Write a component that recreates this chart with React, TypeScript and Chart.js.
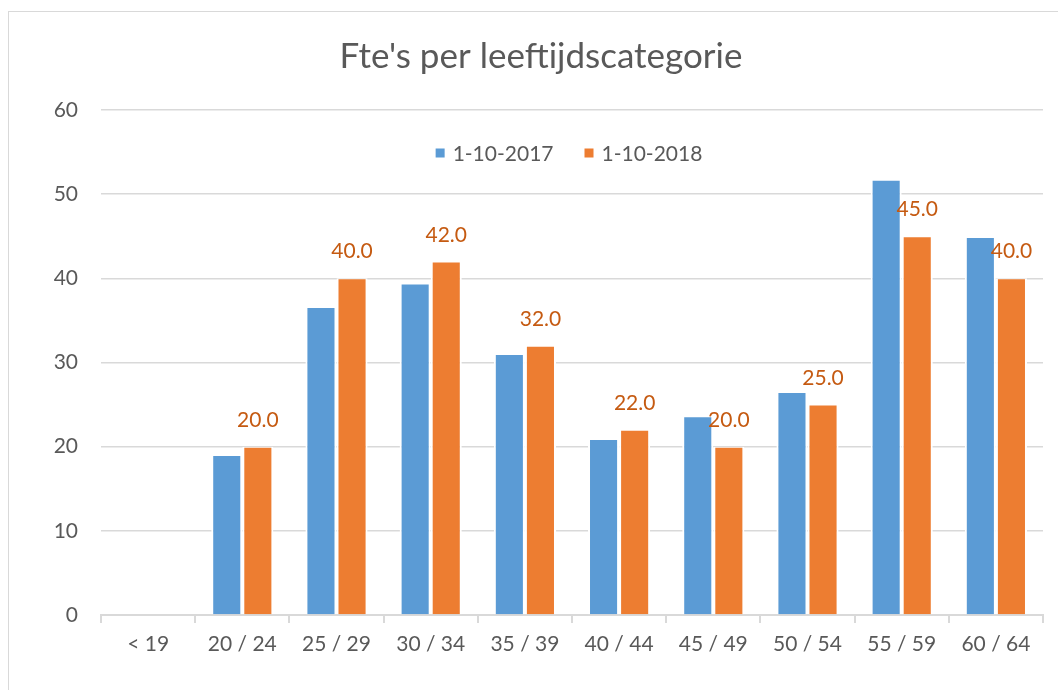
import React, { useEffect, useRef } from "react";
import { Chart, registerables } from "chart.js";

Chart.register(...registerables);

const categories = ["< 19", "20 / 24", "25 / 29", "30 / 34", "35 / 39", "40 / 44", "45 / 49", "50 / 54", "55 / 59", "60 / 64"];
const series2017 = [null, 19.0, 36.6, 39.4, 31.0, 20.9, 23.6, 26.5, 51.7, 44.9];
const series2018 = [null, 20.0, 40.0, 42.0, 32.0, 22.0, 20.0, 25.0, 45.0, 40.0];
const seriesLabels = ["1-10-2017", "1-10-2018"];
const yTicks = { min: 0, max: 60, step: 10 };
const titleText = "Fte's per leeftijdscategorie";

const BLUE = "#5b9bd5";
const ORANGE = "#ed7d31";
const TEXT = "#595959";
const GRID = "#d9d9d9";
const LABEL = "#c55a11";
const FONT = "Lato, 'Open Sans', sans-serif";

const legendPlugin = {
  id: "insideLegend",
  afterDraw(chart: any) {
    const ctx = chart.ctx;
    const area = chart.chartArea;
    ctx.save();
    ctx.font = `21px ${FONT}`;
    ctx.textBaseline = "middle";
    const box = 9;
    const gap = 8;
    const spacing = 31;
    const items = chart.data.datasets.map((d: any) => ({
      label: d.label,
      color: d.backgroundColor,
      w: ctx.measureText(d.label).width,
    }));
    let total = 0;
    items.forEach((it: any, i: number) => {
      total += box + gap + it.w + (i < items.length - 1 ? spacing : 0);
    });
    let x = (area.left + area.right) / 2 - total / 2 - 3;
    const y = area.top + 43;
    items.forEach((it: any) => {
      ctx.fillStyle = it.color;
      ctx.fillRect(x, y - box / 2, box, box);
      x += box + gap;
      ctx.fillStyle = TEXT;
      ctx.textAlign = "left";
      ctx.fillText(it.label, x, y + 1);
      x += it.w + spacing;
    });
    ctx.restore();
  },
};

const dataLabelPlugin = {
  id: "orangeLabels",
  afterDatasetsDraw(chart: any) {
    const ctx = chart.ctx;
    const meta = chart.getDatasetMeta(1);
    const data = chart.data.datasets[1].data;
    ctx.save();
    ctx.font = `21px ${FONT}`;
    ctx.fillStyle = LABEL;
    ctx.textAlign = "center";
    ctx.textBaseline = "alphabetic";
    meta.data.forEach((el: any, i: number) => {
      const v = data[i];
      if (v === null || v === undefined) return;
      ctx.fillText(Number(v).toFixed(1), el.x, el.y - 20);
    });
    ctx.restore();
  },
};

export default function App() {
  const ref = useRef<HTMLCanvasElement | null>(null);

  useEffect(() => {
    if (!ref.current) return;
    const barStyle = {
      borderColor: "#ffffff",
      borderWidth: { left: 2, right: 2, top: 1, bottom: 0 },
      borderSkipped: false,
      categoryPercentage: 0.66,
      barPercentage: 1,
    };
    const chart = new Chart(ref.current, {
      type: "bar",
      data: {
        labels: categories,
        datasets: [
          { label: seriesLabels[0], data: series2017, backgroundColor: BLUE, ...barStyle },
          { label: seriesLabels[1], data: series2018, backgroundColor: ORANGE, ...barStyle },
        ],
      },
      options: {
        responsive: true,
        maintainAspectRatio: false,
        animation: false,
        layout: { padding: { left: 0, right: 0, top: 0, bottom: 45 } },
        plugins: {
          legend: { display: false },
          tooltip: { enabled: false },
          title: {
            display: true,
            text: titleText,
            color: TEXT,
            font: { family: FONT, size: 35, weight: "normal", lineHeight: 1.2 },
            padding: { top: 24, bottom: 32 },
          },
        },
        scales: {
          x: {
            grid: {
              offset: true,
              drawOnChartArea: false,
              drawTicks: true,
              tickLength: 8,
              color: GRID,
              lineWidth: 2,
            },
            border: { display: true, color: GRID, width: 2 },
            ticks: {
              color: TEXT,
              font: { family: FONT, size: 21 },
              padding: 9,
              maxRotation: 0,
              autoSkip: false,
            },
            afterFit: (scale: any) => {
              scale.height = 50;
            },
          },
          y: {
            min: yTicks.min,
            max: yTicks.max,
            grid: { color: GRID, lineWidth: 1.5, drawTicks: false },
            border: { display: false },
            ticks: {
              stepSize: yTicks.step,
              color: TEXT,
              font: { family: FONT, size: 21 },
              padding: 23,
            },
            afterFit: (scale: any) => {
              scale.width = 92;
            },
          },
          yRightSpace: {
            position: "right",
            display: true,
            min: yTicks.min,
            max: yTicks.max,
            grid: { display: false, drawTicks: false },
            border: { display: false },
            ticks: { display: false },
            afterFit: (scale: any) => {
              scale.width = 30;
            },
          },
        },
      },
      plugins: [legendPlugin, dataLabelPlugin],
    });
    return () => chart.destroy();
  }, []);

  return (
    <div style={{ position: "fixed", left: 0, top: 0, width: 1058, height: 690, overflow: "hidden", background: "#fff" }}>
      <div
        style={{
          position: "absolute",
          left: 8,
          top: 11,
          width: 1066,
          height: 700,
          border: `1px solid ${GRID}`,
          boxSizing: "border-box",
        }}
      >
        <canvas ref={ref} style={{ display: "block" }} />
      </div>
    </div>
  );
}
